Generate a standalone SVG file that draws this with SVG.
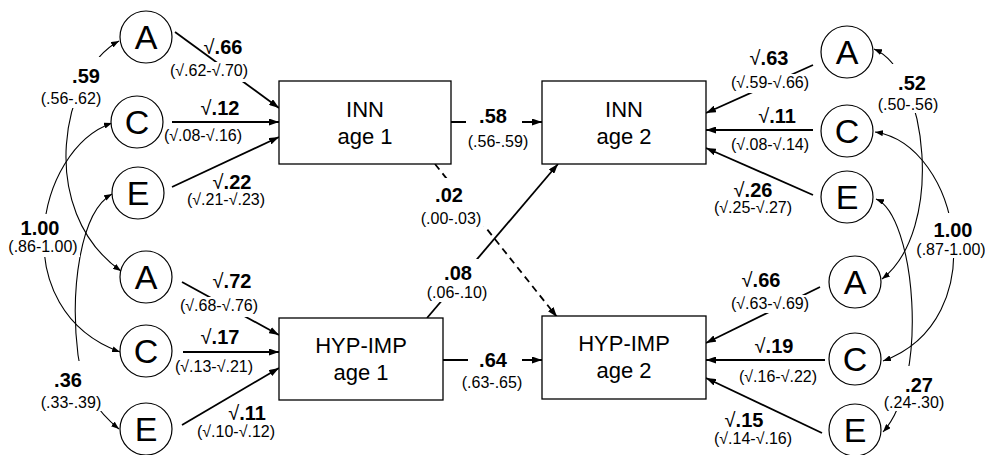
<svg xmlns="http://www.w3.org/2000/svg" width="985" height="455" viewBox="0 0 985 455">
<defs>
<style>
text{font-family:"Liberation Sans",Arial,Helvetica,sans-serif;fill:#000}
.box{fill:#fff;stroke:#000;stroke-width:1.3}
.lat{fill:#fff;stroke:#000;stroke-width:1.2}
.bt{font-size:22px;text-anchor:middle}
.lt{font-size:34px;text-anchor:middle}
.ar{stroke:#000;stroke-width:1.8;fill:none;marker-end:url(#ah)}
.dash{stroke-dasharray:7 5}
.cv{stroke:#000;stroke-width:1.1;fill:none;marker-start:url(#ahs);marker-end:url(#ahs)}
.b{font-size:20px;font-weight:bold;text-anchor:middle}
.r{font-weight:normal}
.p{font-size:16px;text-anchor:middle}
.bg{fill:#fff;stroke:none}
</style>
<marker id="ah" viewBox="0 0 10 7" refX="10" refY="3.5" markerWidth="10" markerHeight="7" markerUnits="userSpaceOnUse" orient="auto"><path d="M0,0L10,3.5L0,7z" fill="#000"/></marker>
<marker id="ahs" viewBox="0 0 8 6" refX="8" refY="3" markerWidth="8" markerHeight="6" markerUnits="userSpaceOnUse" orient="auto-start-reverse"><path d="M0,0L8,3L0,6z" fill="#000"/></marker>
</defs>
<rect width="985" height="455" fill="#fff"/>
<g id="connectors">
<line class="ar" x1="175" y1="32" x2="279" y2="108"/>
<line class="ar" x1="172" y1="122" x2="279" y2="122"/>
<line class="ar" x1="172" y1="187" x2="279" y2="137"/>
<line class="ar" x1="182" y1="282" x2="279" y2="335"/>
<line class="ar" x1="183" y1="352" x2="279" y2="352"/>
<line class="ar" x1="182" y1="425" x2="279" y2="368"/>
<line class="ar" x1="813" y1="65" x2="706" y2="113"/>
<line class="ar" x1="813" y1="130" x2="706" y2="130"/>
<line class="ar" x1="813" y1="195" x2="706" y2="148"/>
<line class="ar" x1="820" y1="287" x2="706" y2="343"/>
<line class="ar" x1="825" y1="360" x2="706" y2="360"/>
<line class="ar" x1="822" y1="433" x2="706" y2="378"/>
<line class="ar" x1="451" y1="122" x2="542" y2="122"/>
<line class="ar" x1="443" y1="360" x2="542" y2="360"/>
<line class="ar dash" x1="435" y1="164" x2="557" y2="317"/>
<line class="ar" x1="427" y1="318" x2="558" y2="164"/>
<path class="cv" d="M119,41 C62,72 35,210 121,271"/>
<path class="cv" d="M112,123 C35,150 5,310 120,352"/>
<path class="cv" d="M112,194 C80,212 70,290 78,355 C83,392 98,412 119,429"/>
<path class="cv" d="M874,49 C928,72 945,230 882,279"/>
<path class="cv" d="M875,132 C960,145 995,320 883,361"/>
<path class="cv" d="M876,199 C915,215 930,380 883,432"/>
</g>
<g id="label-backgrounds">
<rect class="bg" x="40" y="57" width="63" height="51"/>
<rect class="bg" x="16" y="214" width="48" height="25"/>
<rect class="bg" x="6" y="239" width="74" height="18"/>
<rect class="bg" x="40" y="361" width="64" height="50"/>
<rect class="bg" x="877" y="64" width="63" height="49"/>
<rect class="bg" x="930" y="213" width="46" height="27"/>
<rect class="bg" x="918" y="240" width="67" height="18"/>
<rect class="bg" x="883" y="366" width="63" height="45"/>
<rect class="bg" x="466" y="106" width="56" height="21"/>
<rect class="bg" x="468" y="349" width="54" height="20"/>
<rect class="bg" x="420" y="178" width="66" height="48"/>
<rect class="bg" x="425" y="259" width="65" height="43"/>
<rect class="bg" x="170" y="62" width="78" height="20"/>
<rect class="bg" x="180" y="297" width="78" height="20"/>
<rect class="bg" x="730" y="74" width="80" height="19"/>
<rect class="bg" x="730" y="295" width="80" height="18"/>
</g>
<g id="edge-labels">
<text class="b" x="223" y="54"><tspan class="r">√</tspan>.66</text>
<text class="p" x="209" y="76">(√.62-√.70)</text>
<text class="b" x="220" y="115"><tspan class="r">√</tspan>.12</text>
<text class="p" x="203" y="141">(√.08-√.16)</text>
<text class="b" x="232" y="189"><tspan class="r">√</tspan>.22</text>
<text class="p" x="226" y="205">(√.21-√.23)</text>
<text class="b" x="232" y="288"><tspan class="r">√</tspan>.72</text>
<text class="p" x="219" y="311">(√.68-√.76)</text>
<text class="b" x="220" y="344"><tspan class="r">√</tspan>.17</text>
<text class="p" x="214" y="372">(√.13-√.21)</text>
<text class="b" x="247" y="420"><tspan class="r">√</tspan>.11</text>
<text class="p" x="236" y="437">(√.10-√.12)</text>
<text class="b" x="86" y="83">.59</text>
<text class="p" x="71" y="104">(.56-.62)</text>
<text class="b" x="40" y="235">1.00</text>
<text class="p" x="43" y="252">(.86-1.00)</text>
<text class="b" x="68" y="387">.36</text>
<text class="p" x="71" y="408">(.33-.39)</text>
<text class="b" x="493" y="123">.58</text>
<text class="p" x="498" y="147">(.56-.59)</text>
<text class="b" x="493" y="367">.64</text>
<text class="p" x="492" y="388">(.63-.65)</text>
<text class="b" x="449" y="202">.02</text>
<text class="p" x="451" y="224">(.00-.03)</text>
<text class="b" x="458" y="280">.08</text>
<text class="p" x="457" y="298">(.06-.10)</text>
<text class="b" x="769" y="65"><tspan class="r">√</tspan>.63</text>
<text class="p" x="770" y="88">(√.59-√.66)</text>
<text class="b" x="777" y="123"><tspan class="r">√</tspan>.11</text>
<text class="p" x="770" y="150">(√.08-√.14)</text>
<text class="b" x="753" y="197"><tspan class="r">√</tspan>.26</text>
<text class="p" x="753" y="213">(√.25-√.27)</text>
<text class="b" x="761" y="287"><tspan class="r">√</tspan>.66</text>
<text class="p" x="770" y="309">(√.63-√.69)</text>
<text class="b" x="774" y="353"><tspan class="r">√</tspan>.19</text>
<text class="p" x="778" y="382">(√.16-√.22)</text>
<text class="b" x="744" y="427"><tspan class="r">√</tspan>.15</text>
<text class="p" x="753" y="444">(√.14-√.16)</text>
<text class="b" x="912" y="90">.52</text>
<text class="p" x="908" y="110">(.50-.56)</text>
<text class="b" x="953" y="237">1.00</text>
<text class="p" x="951" y="255">(.87-1.00)</text>
<text class="b" x="919" y="392">.27</text>
<text class="p" x="914" y="408">(.24-.30)</text>
</g>
<g id="inn1"><rect class="box" x="279" y="81" width="172" height="83"/><text class="bt" x="365" y="117">INN</text><text class="bt" x="365" y="144">age 1</text></g>
<g id="inn2"><rect class="box" x="542" y="81" width="164" height="83"/><text class="bt" x="624" y="117">INN</text><text class="bt" x="624" y="144">age 2</text></g>
<g id="hyp1"><rect class="box" x="279" y="318" width="164" height="82"/><text class="bt" x="361" y="353">HYP-IMP</text><text class="bt" x="361" y="380">age 1</text></g>
<g id="hyp2"><rect class="box" x="542" y="316" width="164" height="83"/><text class="bt" x="624" y="351">HYP-IMP</text><text class="bt" x="624" y="378">age 2</text></g>
<g id="A1L"><circle class="lat" cx="146" cy="37" r="26"/><text class="lt" x="146" y="49">A</text></g>
<g id="C1L"><circle class="lat" cx="137" cy="122" r="26"/><text class="lt" x="137" y="134">C</text></g>
<g id="E1L"><circle class="lat" cx="138" cy="193" r="26"/><text class="lt" x="138" y="205">E</text></g>
<g id="A2L"><circle class="lat" cx="146" cy="277" r="26"/><text class="lt" x="146" y="289">A</text></g>
<g id="C2L"><circle class="lat" cx="146" cy="351" r="26"/><text class="lt" x="146" y="363">C</text></g>
<g id="E2L"><circle class="lat" cx="146" cy="429" r="26"/><text class="lt" x="146" y="441">E</text></g>
<g id="A1R"><circle class="lat" cx="847" cy="52" r="26"/><text class="lt" x="847" y="64">A</text></g>
<g id="C1R"><circle class="lat" cx="847" cy="131" r="26"/><text class="lt" x="847" y="143">C</text></g>
<g id="E1R"><circle class="lat" cx="847" cy="197" r="26"/><text class="lt" x="847" y="209">E</text></g>
<g id="A2R"><circle class="lat" cx="855" cy="282" r="26"/><text class="lt" x="855" y="294">A</text></g>
<g id="C2R"><circle class="lat" cx="855" cy="359" r="26"/><text class="lt" x="855" y="371">C</text></g>
<g id="E2R"><circle class="lat" cx="855" cy="430" r="26"/><text class="lt" x="855" y="442">E</text></g>
</svg>
